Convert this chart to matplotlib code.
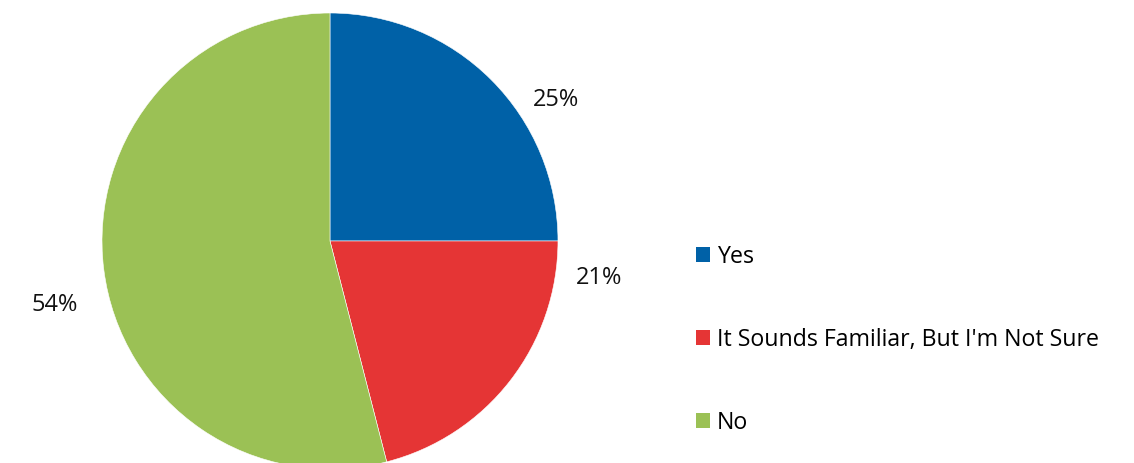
import numpy as np
import matplotlib.pyplot as plt
from matplotlib.patches import Patch

plt.rcParams['font.family'] = ['Open Sans', 'DejaVu Sans']

categories = ["Yes", "It Sounds Familiar, But I'm Not Sure", "No"]
values = [25, 21, 54]
colors = ['#0061A7', '#E53535', '#9BC155']

# label anchor points (angle in degrees, distance in radii) - layout only
label_pos = [(32, 1.17), (-7.8, 1.19), (-167, 1.24)]

fig = plt.figure(figsize=(11.34, 4.63), dpi=100)
ax = fig.add_axes([0.08995, -0.01296, 0.4021, 0.9849])

wedges, _ = ax.pie(values, colors=colors, startangle=90, counterclock=False,
                   radius=1, wedgeprops=dict(edgecolor='white', linewidth=0.4))
for w in wedges:
    w.set_clip_on(False)
ax.set_xlim(-1, 1)
ax.set_ylim(-1, 1)
ax.set_aspect('equal')
ax.axis('off')

for v, (ang, dist) in zip(values, label_pos):
    a = np.deg2rad(ang)
    ax.text(dist * np.cos(a), dist * np.sin(a), f"{v}%", ha='center', va='center',
            fontsize=17, color='#111111', clip_on=False)

handles = [Patch(facecolor=c, edgecolor='none') for c in colors]
fig.legend(handles, categories, loc='center left', bbox_to_anchor=(0.6135, 0.266),
           frameon=False, fontsize=16.7, handlelength=0.62, handleheight=0.62,
           handletextpad=0.3, labelspacing=2.55, borderpad=0, borderaxespad=0)

fig.savefig('out.png', dpi=100)
